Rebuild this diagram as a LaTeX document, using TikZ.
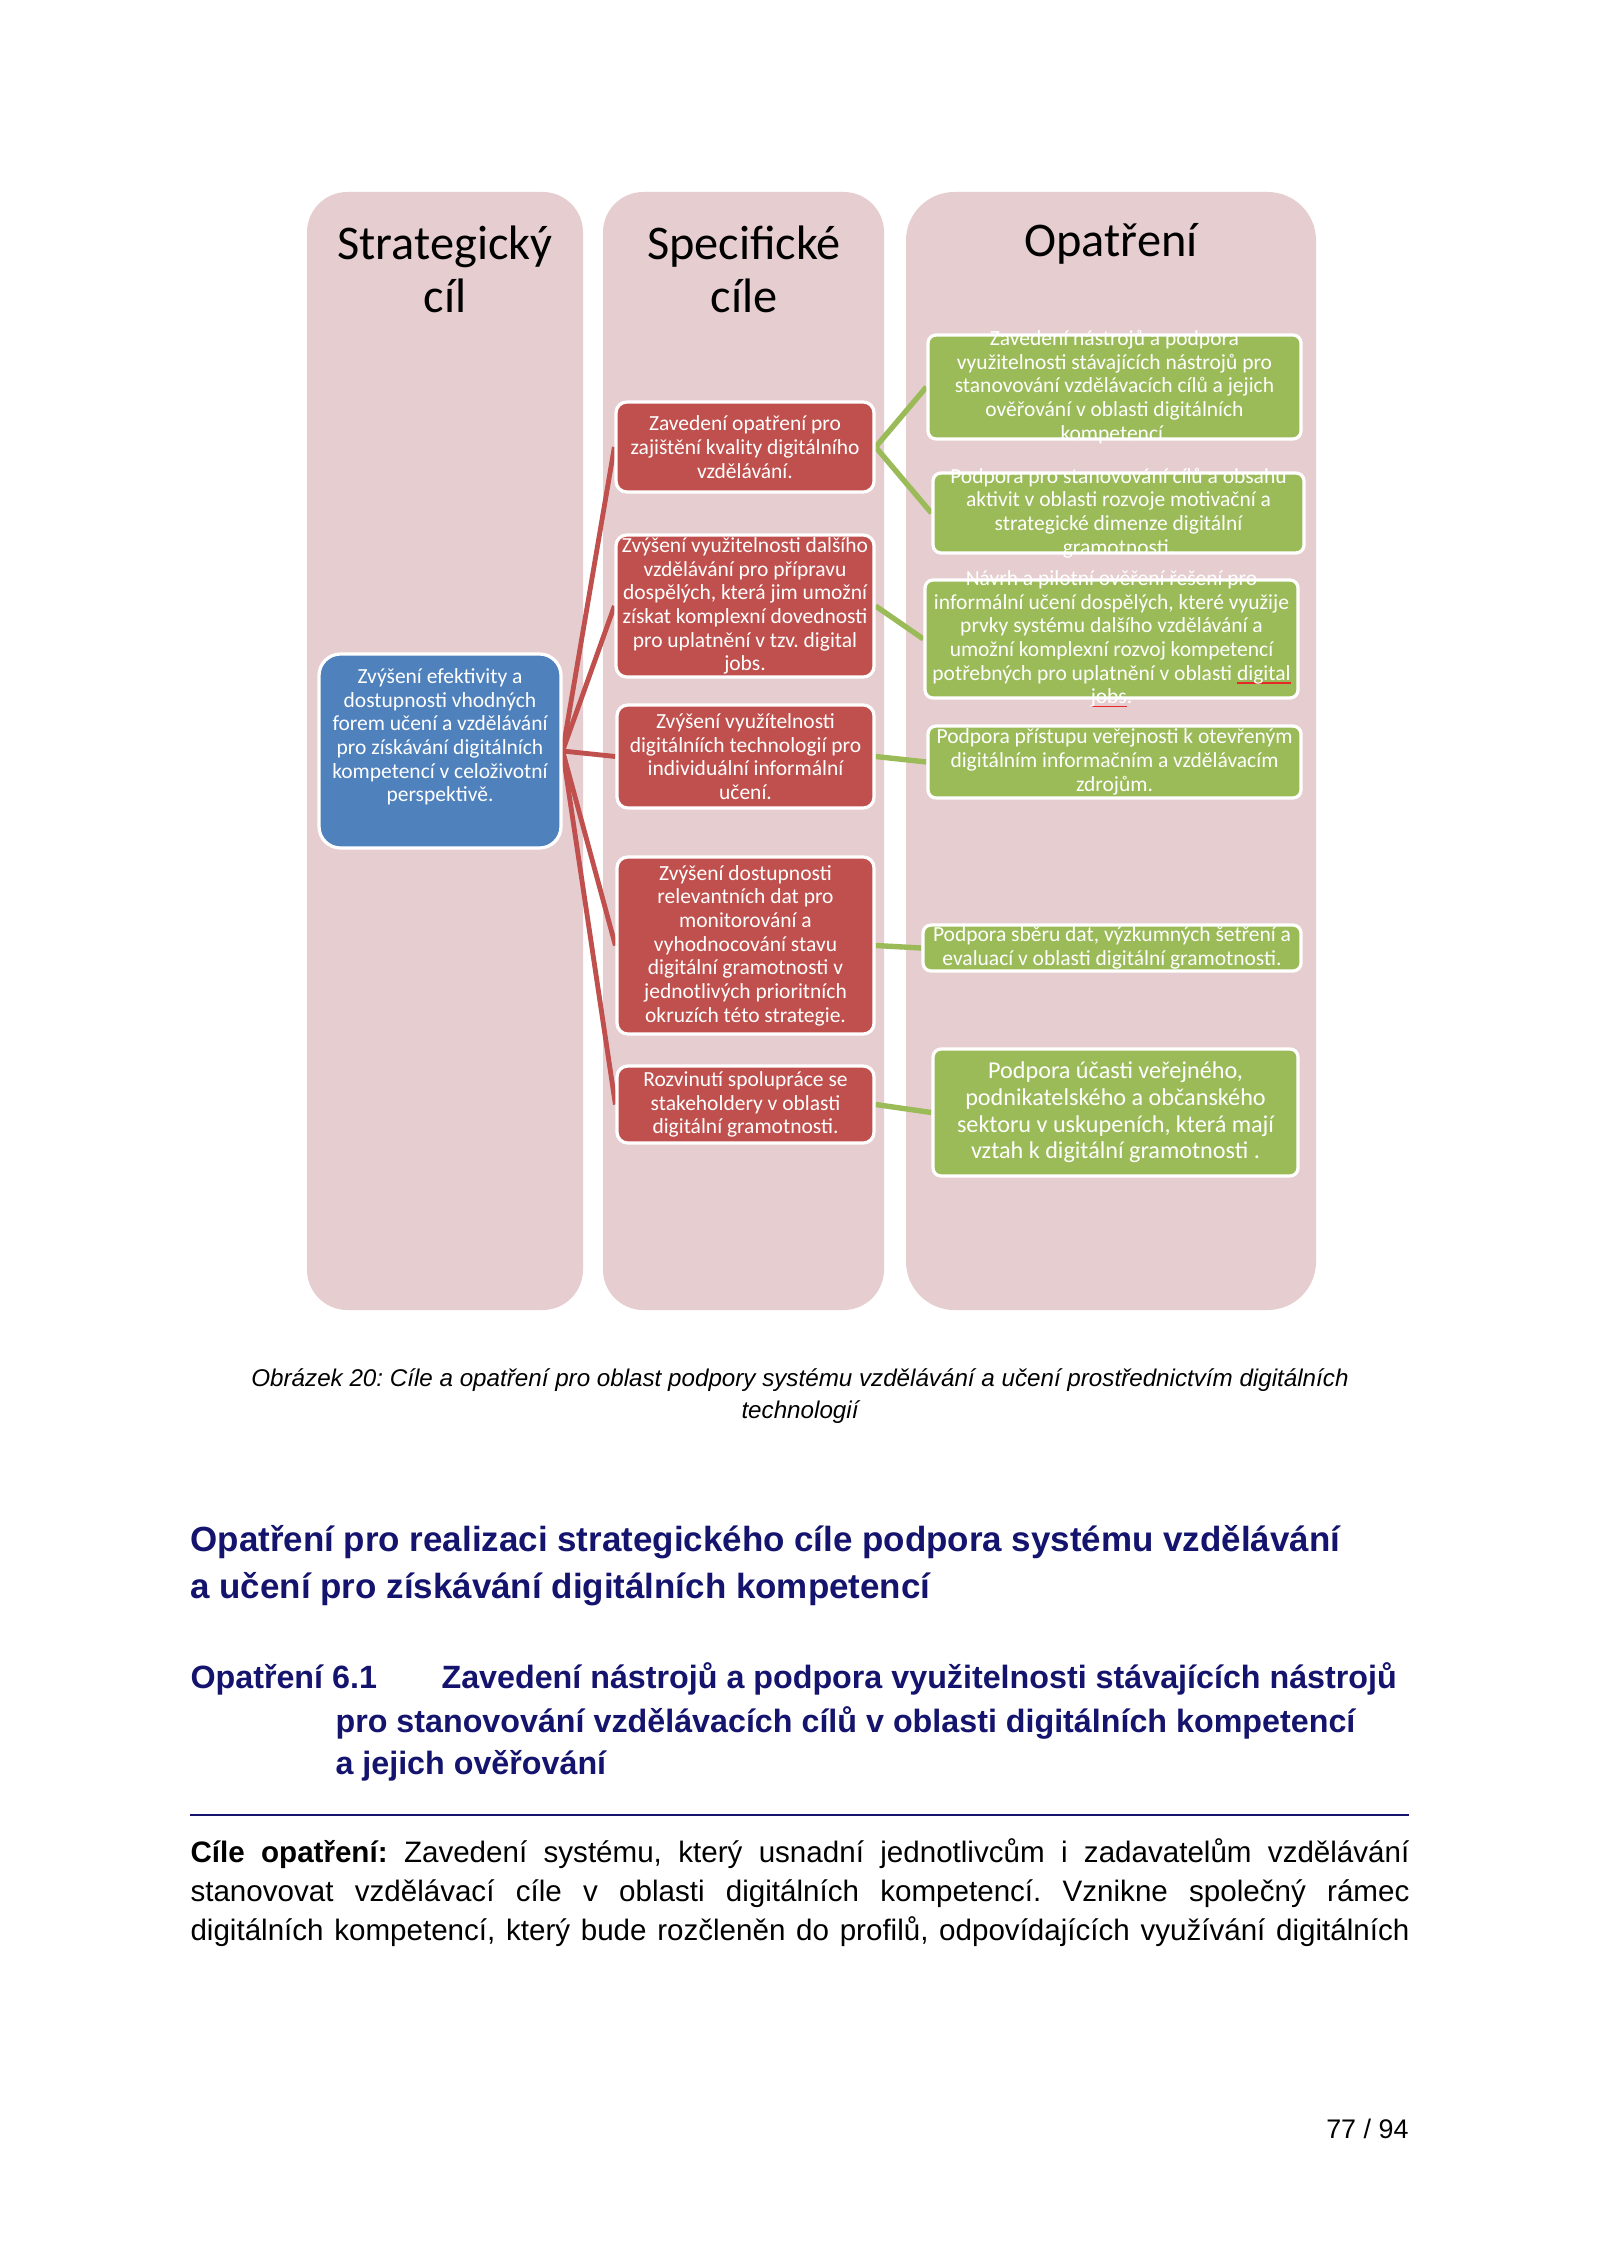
\documentclass[tikz,border=0pt]{standalone}
\usepackage{fontspec}
\setmainfont{Liberation Sans}
\newfontfamily\calibri{Carlito}
\frenchspacing
\definecolor{colbg}{RGB}{230,206,208}
\definecolor{accred}{RGB}{192,80,77}
\definecolor{accgreen}{RGB}{155,187,89}
\definecolor{accblue}{RGB}{79,129,189}
\definecolor{navy}{RGB}{20,20,110}
\definecolor{spellred}{RGB}{230,40,40}
\newdimen\upx \upx=0.37205pt
\newcommand\sperr[1]{\setbox0\hbox{#1}\rlap{\textcolor{spellred}{\rule[-1.3pt]{\wd0}{0.45pt}}}\box0}
\pgfdeclarelayer{back}
\pgfdeclarelayer{mid}
\pgfsetlayers{back,mid,main}
\tikzset{
  colfill/.style={fill=colbg},
  boxbase/.style={draw=white, line width=1.2pt, inner sep=0pt, rectangle},
  redbox/.style={boxbase, fill=accred, rounded corners=4pt},
  greenbox/.style={boxbase, fill=accgreen, rounded corners=3pt},
  bluebox/.style={boxbase, fill=accblue, rounded corners=8pt},
  boxtext/.style={text=white, align=center, inner sep=0pt, font=\calibri\fontsize{8}{8.8}\selectfont},
  bigboxtext/.style={boxtext, font=\calibri\fontsize{9}{9.9}\selectfont},
  redline/.style={draw=accred, line width=1.8pt},
  greenline/.style={draw=accgreen, line width=2pt},
  coltitle/.style={align=center, inner sep=0pt, font=\calibri\fontsize{18}{19.8}\selectfont},
  captext/.style={inner sep=0pt, anchor=base, font=\itshape\fontsize{9}{11}\selectfont},
  hdone/.style={inner sep=0pt, anchor=base west, text=navy, font=\bfseries\fontsize{13}{17}\selectfont},
  hdtwo/.style={inner sep=0pt, anchor=base west, text=navy, font=\bfseries\fontsize{12}{16}\selectfont},
  bodytext/.style={inner sep=0pt, anchor=base west, font=\fontsize{11}{14.5}\selectfont},
}
\begin{document}
\begin{tikzpicture}[x=\upx, y=-\upx]
\useasboundingbox (0,0) rectangle (1600,2262);
\begin{pgfonlayer}{back}
\fill[white] (0,0) rectangle (1600,2262);
\fill[colfill, rounded corners=15pt] (307,192) rectangle (583,1310);
\fill[colfill, rounded corners=15pt] (603,192) rectangle (884,1310);
\fill[colfill, rounded corners=18pt] (906,192) rectangle (1316,1310);
\end{pgfonlayer}

% column titles
\node[coltitle] (t1) at (445,269) {Strategický\\cíl};
\node[coltitle] (t2) at (744,269) {Specifické\\cíle};
\node[coltitle] (t3) at (1111,244) {Opatření};

% strategic goal
\node[bluebox, minimum width=242\upx, minimum height=194\upx] (blue) at (440,751) {};
\node[boxtext] (bluet) at (440,737) {Zvýšení efektivity a\\dostupnosti vhodných\\forem učení a vzdělávání\\pro získávání digitálních\\kompetencí v celoživotní\\perspektivě.};

% specific goals
\node[redbox, minimum width=258\upx, minimum height=90\upx] (r1) at (745,447) {};
\node[boxtext] at (r1) {Zavedení opatření pro\\zajištění kvality digitálního\\vzdělávání.};
\node[redbox, minimum width=258\upx, minimum height=142\upx] (r2) at (745,606) {};
\node[boxtext] at (r2) {Zvýšení využitelnosti dalšího\\vzdělávání pro přípravu\\dospělých, která jim umožní\\získat komplexní dovednosti\\pro uplatnění v tzv. digital\\jobs.};
\node[redbox, minimum width=257\upx, minimum height=103\upx] (r3) at (745.5,756.5) {};
\node[boxtext] at (r3) {Zvýšení využítelnosti\\digitálníích technologií pro\\individuální informální\\učení.};
\node[redbox, minimum width=257\upx, minimum height=177\upx] (r4) at (745.5,945.5) {};
\node[boxtext] at (r4) {Zvýšení dostupnosti\\relevantních dat pro\\monitorování a\\vyhodnocování stavu\\digitální gramotnosti v\\jednotlivých prioritních\\okruzích této strategie.};
\node[redbox, minimum width=257\upx, minimum height=77\upx] (r5) at (745.5,1104.5) {};
\node[boxtext] at (r5) {Rozvinutí spolupráce se\\stakeholdery v oblasti\\digitální gramotnosti.};

% measures
\node[greenbox, minimum width=373\upx, minimum height=104\upx] (g1) at (1114.5,387) {};
\node[boxtext] at (g1) {Zavedení nástrojů a podpora\\využitelnosti stávajících nástrojů pro\\stanovování vzdělávacích cílů a jejich\\ověřování v oblasti digitálních\\kompetencí.};
\node[greenbox, minimum width=371\upx, minimum height=80\upx] (g2) at (1118.5,513) {};
\node[boxtext] at (g2) {Podpora pro stanovování cílů a obsahu\\aktivit v oblasti rozvoje motivační a\\strategické dimenze digitální\\gramotnosti.};
\node[greenbox, minimum width=373\upx, minimum height=118\upx] (g3) at (1111.5,639) {};
\node[boxtext] at (g3) {Návrh a pilotní ověření řešení pro\\informální učení dospělých, které využije\\prvky systému dalšího vzdělávání a\\umožní komplexní rozvoj kompetencí\\potřebných pro uplatnění v oblasti \sperr{digital}\\\sperr{jobs}.};
\node[greenbox, minimum width=373\upx, minimum height=72\upx] (g4) at (1114.5,762) {};
\node[boxtext] at (g4) {Podpora přístupu veřejnosti k otevřeným\\digitálním informačním a vzdělávacím\\zdrojům.};
\node[greenbox, minimum width=378\upx, minimum height=46\upx] (g5) at (1112,948) {};
\node[boxtext] at (g5) {Podpora sběru dat, výzkumných šetření a\\evaluací v oblasti digitální gramotnosti.};
\node[greenbox, minimum width=365\upx, minimum height=127\upx] (g6) at (1115.5,1112.5) {};
\node[bigboxtext] at (g6) {Podpora účasti veřejného,\\podnikatelského a občanského\\sektoru v uskupeních, která mají\\vztah k digitální gramotnosti .};

\begin{pgfonlayer}{mid}
\draw[redline] (blue.east) -- (r1.west);
\draw[redline] (blue.east) -- (r2.west);
\draw[redline] (blue.east) -- (r3.west);
\draw[redline] (blue.east) -- (r4.west);
\draw[redline] (blue.east) -- (r5.west);
\draw[greenline] (r1.east) -- (g1.west);
\draw[greenline] (r1.east) -- (g2.west);
\draw[greenline] (r2.east) -- (g3.west);
\draw[greenline] (r3.east) -- (g4.west);
\draw[greenline] (r4.east) -- (g5.west);
\draw[greenline] (r5.east) -- (g6.west);
\end{pgfonlayer}

% caption
\node[captext] (cap1) at (800,1386) {Obrázek 20: Cíle a opatření pro oblast podpory systému vzdělávání a učení prostřednictvím digitálních};
\node[captext] (cap2) at (800,1418) {technologií};

% headings
\node[hdone] (h1a) at (190,1551) {Opatření pro realizaci strategického cíle podpora systému vzdělávání};
\node[hdone] (h1b) at (190,1598) {a učení pro získávání digitálních kompetencí};
\node[hdtwo] (h2n) at (190,1688) {Opatření 6.1};
\node[hdtwo] (h2a) at (441,1688) {Zavedení nástrojů a podpora využitelnosti stávajících nástrojů};
\node[hdtwo] (h2b) at (335,1732) {pro stanovování vzdělávacích cílů v oblasti digitálních kompetencí};
\node[hdtwo] (h2c) at (335,1774) {a jejich ověřování};
\coordinate (rulel) at (190,1815);
\coordinate (ruler) at (1409,1815);
\draw[navy, line width=0.8pt] (rulel) -- (ruler);

% body
\node[bodytext] (b1) at (190,1862) {\makebox[453.5pt][s]{\textbf{Cíle opatření:} Zavedení systému, který usnadní jednotlivcům i zadavatelům vzdělávání}};
\node[bodytext] (b2) at (190,1901) {\makebox[453.5pt][s]{stanovovat vzdělávací cíle v~oblasti digitálních kompetencí. Vznikne společný rámec}};
\node[bodytext] (b3) at (190,1940) {\makebox[453.5pt][s]{digitálních kompetencí, který bude rozčleněn do profilů, odpovídajících využívání digitálních}};

% page number
\node[inner sep=0pt, anchor=base east, font=\fontsize{10}{12}\selectfont] (pg) at (1409,2138) {77 / 94};
\end{tikzpicture}
\end{document}
